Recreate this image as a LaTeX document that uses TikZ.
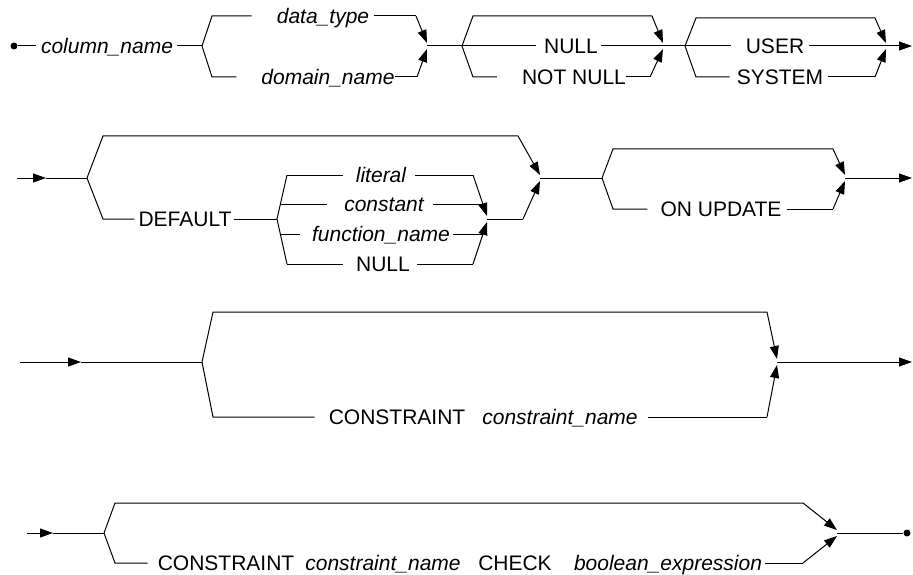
\documentclass[tikz,border=0pt]{standalone}
\usepackage{fontspec}
\setmainfont{Liberation Sans}
\usetikzlibrary{arrows.meta}
\newcommand\dgfs{\fontsize{21}{25}\selectfont}
\tikzset{
 ln/.style={line width=1pt},
 ar/.style={ln,-{Triangle[length=13pt,width=9pt]}},
 kw/.style={font=\dgfs, inner sep=0pt, text height=15pt, text depth=0pt, anchor=center},
 idt/.style={kw, font=\dgfs\itshape},
 dotn/.style={circle, fill, inner sep=0pt, minimum size=7pt},
}
\begin{document}
\begin{tikzpicture}[x=1pt,y=-1pt]
\useasboundingbox (0,0) rectangle (913,575);
% ---------------- Row 1
\node[dotn] (d1) at (14,46) {};
\node[idt] (cn) at (107,46) {column\_name};
\coordinate (b1) at (202,46);
\coordinate (m1) at (427,46);
\coordinate (b2) at (462,46);
\coordinate (m2) at (663,46);
\coordinate (b3) at (685,46);
\coordinate (m3) at (886,46);
\coordinate (e1) at (912,46);
\draw[ln] (d1) -- ([xshift=-5pt]cn.west);
\draw[ln] ([xshift=4pt]cn.east) -- (b1);
\node[idt] (dt) at (323,16) {data\_type};
\node[idt] (dn) at (328,77) {domain\_name};
\draw[ln] (b1) -- (212,16) -- ([xshift=-25pt]dt.west);
\draw[ln] ([xshift=5pt]dt.east) -- (416,16);
\draw[ar] (416,16) -- ([yshift=3pt]m1);
\draw[ln] (b1) -- (212,77) -- ([xshift=-25pt]dn.west);
\draw[ln] (dn.east) -- (417,77);
\draw[ar] (417,77) -- ([yshift=-3pt]m1);
\draw[ln] (m1) -- (b2);
\node[kw] (nu1) at (571,46) {NULL};
\node[kw] (nn) at (574,77) {NOT NULL};
\draw[ln] (b2) -- (473,16) -- (652,16);
\draw[ar] (652,16) -- ([yshift=3pt]m2);
\draw[ln] (b2) -- ([xshift=-8pt]nu1.west);
\draw[ln] ([xshift=3pt]nu1.east) -- (m2);
\draw[ln] (b2) -- (473,77) -- ([xshift=-25pt]nn.west);
\draw[ln] (nn.east) -- (650,77);
\draw[ar] (650,77) -- ([yshift=-3pt]m2);
\draw[ln] (m2) -- (b3);
\node[kw] (us) at (775,46) {USER};
\node[kw] (sy) at (780,77) {SYSTEM};
\draw[ln] (b3) -- (696,18) -- (875,18);
\draw[ar] (875,18) -- ([yshift=3pt]m3);
\draw[ln] (b3) -- ([xshift=-15pt]us.west);
\draw[ln] ([xshift=5pt]us.east) -- (m3);
\draw[ln] (b3) -- (696,77) -- ([xshift=-7pt]sy.west);
\draw[ln] ([xshift=5pt]sy.east) -- (875,77);
\draw[ar] (875,77) -- ([yshift=-3pt]m3);
\draw[ar] (m3) -- (e1);
% ---------------- Row 2
\coordinate (s2) at (17,178);
\coordinate (a2) at (46,178);
\coordinate (b4) at (87,178);
\coordinate (m4) at (540,178);
\coordinate (b5) at (277,219);
\coordinate (m5) at (487,219);
\coordinate (b6) at (602,178);
\coordinate (m6) at (845,178);
\coordinate (e2) at (912,178);
\draw[ar] (s2) -- (a2);
\draw[ln] (a2) -- (b4);
\draw[ln] (b4) -- (103,136) -- (518,136);
\draw[ar] (518,136) -- ([yshift=3pt]m4);
\node[kw] (df) at (185,219) {DEFAULT};
\draw[ln] (b4) -- (103,219) -- ([xshift=-4pt]df.west);
\draw[ln] ([xshift=2pt]df.east) -- (b5);
\draw[ln] (287,175) -- (b5) -- (287,264);
\node[idt] (lit) at (381,175) {literal};
\node[idt] (cst) at (384,204) {constant};
\node[idt] (fn) at (381,234) {function\_name};
\node[kw] (nu2) at (383,264) {NULL};
\draw[ln] (287,175) -- ([xshift=-13pt]lit.west);
\draw[ln] ([xshift=9pt]lit.east) -- (473,175);
\draw[ar] (473,175) -- ([yshift=3pt]m5);
\draw[ln] (280.4,204) -- ([xshift=-17pt]cst.west);
\draw[ln] ([xshift=9pt]cst.east) -- (482.3,204);
\draw[ln] (280.4,234) -- ([xshift=-12pt]fn.west);
\draw[ln] ([xshift=3pt]fn.east) -- (482.8,234);
\draw[ln] (287,264) -- ([xshift=-13pt]nu2.west);
\draw[ln] ([xshift=7pt]nu2.east) -- (473,264);
\draw[ar] (473,264) -- ([yshift=-3pt]m5);
\draw[ln] (m5) -- (523,219);
\draw[ar] (523,219) -- ([yshift=-3pt]m4);
\draw[ln] (m4) -- (b6);
\node[kw] (ou) at (721,209) {ON UPDATE};
\draw[ln] (b6) -- (613,149) -- (833,149);
\draw[ar] (833,149) -- ([yshift=3pt]m6);
\draw[ln] (b6) -- (613,209) -- ([xshift=-13pt]ou.west);
\draw[ln] ([xshift=5pt]ou.east) -- (833,209);
\draw[ar] (833,209) -- ([yshift=-3pt]m6);
\draw[ar] (m6) -- (e2);
% ---------------- Row 3
\coordinate (s3) at (20,362);
\coordinate (a3) at (81,362);
\coordinate (b7) at (202,362);
\coordinate (m7) at (777,362);
\coordinate (e3) at (912,362);
\draw[ar] (s3) -- (a3);
\draw[ln] (a3) -- (b7);
\draw[ln] (b7) -- (213,312) -- (767,312);
\draw[ar] (767,312) -- ([yshift=3pt]m7);
\node[kw] (cs1) at (397,417) {CONSTRAINT};
\node[idt] (cnm1) at (560,417) {constraint\_name};
\draw[ln] (b7) -- (213,417) -- ([xshift=-14pt]cs1.west);
\draw[ln] ([xshift=10pt]cnm1.east) -- (767,417);
\draw[ar] (767,417) -- ([yshift=-3pt]m7);
\draw[ar] (m7) -- (e3);
% ---------------- Row 4
\coordinate (s4) at (27,533);
\coordinate (a4) at (53,533);
\coordinate (b8) at (104,533);
\coordinate (m8) at (837,533);
\node[dotn] (d2) at (907,533) {};
\draw[ar] (s4) -- (a4);
\draw[ln] (a4) -- (b8);
\draw[ln] (b8) -- (115,503) -- (803,503);
\draw[ar] (803,503) -- ([yshift=3pt]m8);
\node[kw] (cs2) at (226,563) {CONSTRAINT};
\node[idt] (cnm2) at (383,563) {constraint\_name};
\node[kw] (ck) at (515,563) {CHECK};
\node[idt] (be) at (668,563) {boolean\_expression};
\draw[ln] (b8) -- (115,563) -- ([xshift=-10pt]cs2.west);
\draw[ln] ([xshift=3pt]be.east) -- (803,563);
\draw[ar] (803,563) -- ([yshift=-3pt]m8);
\draw[ln] (m8) -- (d2);
\end{tikzpicture}
\end{document}
